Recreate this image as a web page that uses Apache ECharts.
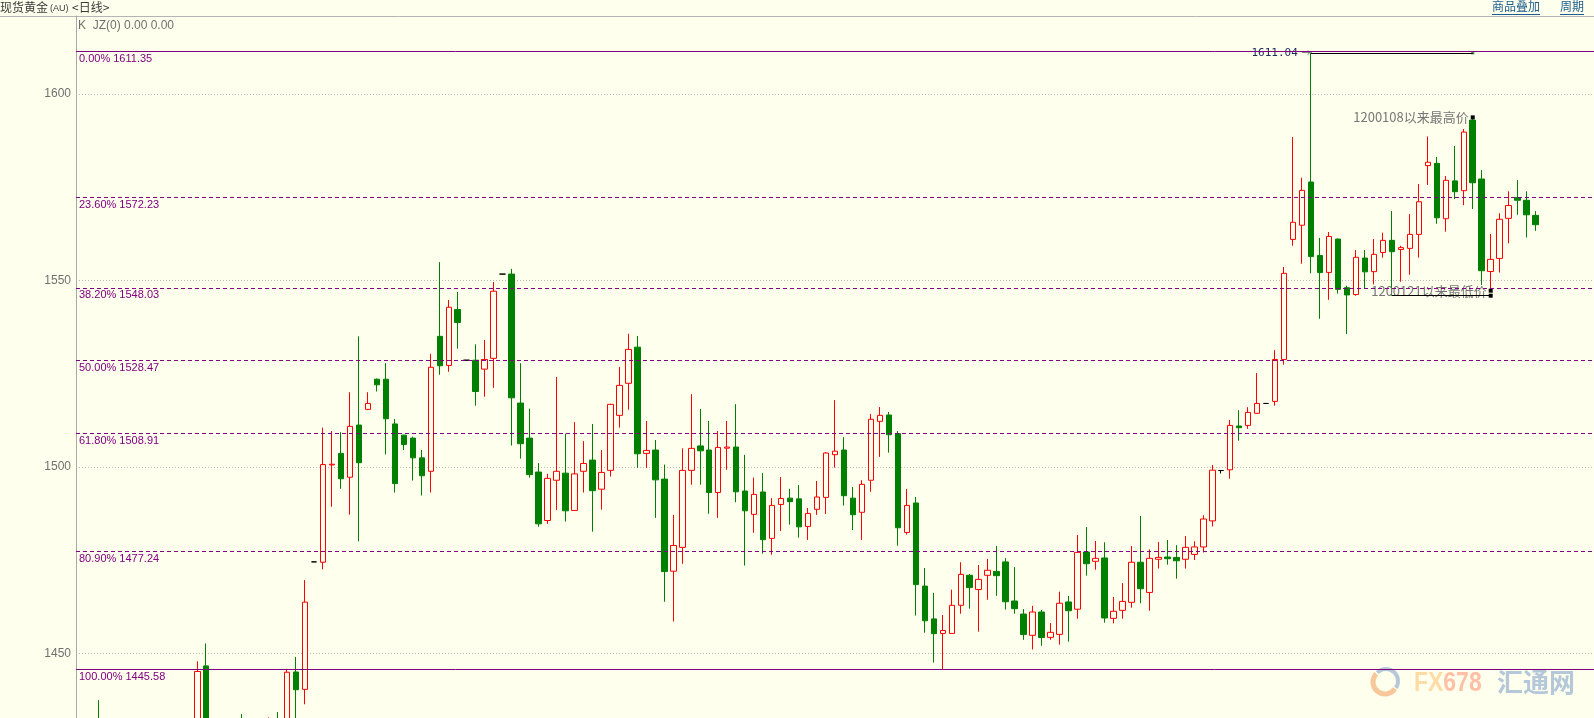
<!DOCTYPE html>
<html><head><meta charset="utf-8">
<script src="https://cdn.jsdelivr.net/npm/echarts@6/dist/echarts.min.js"></script>
<style>html,body{margin:0;padding:0;background:#FFFFEE;}#c{width:1594px;height:718px;}</style>
</head><body><div id="c"></div>
<script>
// ---- data (daily candles, index 0..162; null = outside visible range) ----
const opens = [null,null,1431,null,null,null,null,null,null,null,null,null,null,1430,1446.6,null,null,null,1431,null,null,1428,1432,1430,1444.96,1440.3,1474.5,1474.4,1500.5,1503.6,1497.2,1511.2,1515.4,1523.5,1523.5,1511.5,1508.5,1507.7,1502.4,1498.8,1535.0,1527.2,1542.2,1528.6,1528.6,1526.2,1529.1,1551.7,1551.7,1517.1,1507.7,1498.6,1485.6,1496.4,1498.3,1488.3,1498.8,1501.8,1494.0,1499.05,1513.8,1522.4,1532.1,1503.6,1504.5,1496.7,1472.0,1478.4,1499.05,1505.6,1504.5,1493.1,1505.0,1505.3,1493.5,1487.25,1493.25,1480.8,1489.9,1491.6,1491.4,1484.0,1488.6,1491.8,1503.25,1504.5,1491.6,1487.8,1496.4,1512.2,1513.9,1508.9,1482.4,1490.3,1468.0,1459.2,1455.3,1455.3,1462.85,1470.9,1467.1,1470.9,1471.95,1474.5,1464.0,1460.5,1454.8,1461.05,1454.25,1455.05,1463.75,1461.8,1477.15,1474.65,1475.55,1459.35,1461.5,1463.65,1474.4,1466.3,1475.2,1475.8,1475.7,1475.2,1476.5,1478.5,1485.5,1499.0,1499.2,1510.95,1511.1,1514.35,1517.0,1517.55,1528.8,1561.0,1564.8,1576.4,1556.7,1552.15,1561.1,1548.05,1546.2,1556.0,1552.35,1557.5,1560.75,1558.3,1558.6,1562.35,1580.8,1581.4,1566.55,1576.7,1574.07,1593.0,1577.2,1552.4,1555.9,1566.65,1572.2,1571.5,1567.45];
const closes = [null,null,1426,null,null,null,null,null,null,null,null,null,null,1445.1,1431,null,null,null,1428,null,null,1431,1429,1444.9,1440.2,1463.7,1474.5,1500.6,1500.7,1496.8,1510.85,1501.1,1517.0,1522.0,1512.9,1495.5,1506.0,1502.4,1497.6,1526.7,1527.1,1542.8,1538.7,1528.6,1520.2,1528.8,1547.1,1551.7,1518.5,1506.2,1497.9,1484.7,1496.9,1498.8,1488.2,1498.1,1500.9,1493.6,1498.5,1516.75,1521.85,1531.5,1503.5,1504.4,1496.5,1471.9,1478.9,1499.05,1504.95,1504.3,1493.1,1505.2,1505.3,1493.3,1488.2,1492.6,1480.45,1489.65,1491.5,1490.65,1483.9,1487.5,1491.9,1503.7,1504.2,1492.25,1487.15,1495.3,1512.75,1513.8,1508.6,1483.65,1489.65,1468.4,1458.7,1455.25,1456.1,1462.85,1471.15,1467.6,1469.8,1472.25,1470.8,1463.8,1461.95,1455.0,1461.05,1454.2,1455.6,1463.4,1461.4,1477.05,1474.0,1475.45,1459.45,1461.25,1463.9,1474.4,1467.3,1475.45,1475.7,1475.35,1474.8,1478.4,1478.5,1486,1499.1,1499.0,1511.1,1510.5,1514.6,1517.0,1517.0,1528.8,1551.9,1565.6,1574.16,1556.4,1552.1,1561.8,1547.6,1546.1,1556.2,1552.3,1557.0,1560.75,1557.7,1558.8,1562.35,1571.1,1581.7,1566.8,1576.85,1573.8,1589.8,1576.2,1552.6,1555.65,1566.4,1570.1,1571.5,1567.6,1564.95];
const lows = [null,null,1424,null,null,null,null,null,null,null,null,null,null,1428,1428,null,null,null,1426,null,null,1426,1427,1428,1430,1436.3,1474.5,1472.5,1489.3,1494.1,1487.2,1480.0,1515.2,1520.2,1503.3,1493.1,1504.5,1496.3,1492.3,1493.1,1524.7,1525.5,1531.7,1528.6,1516.4,1518.8,1521.2,1551.7,1505.7,1502.2,1497.1,1483.9,1484.7,1488.4,1485.3,1488.2,1493.1,1482.6,1488.5,1497.4,1510.5,1515.3,1499.7,1499.7,1486.3,1463.8,1458.5,1474.0,1495.2,1495.2,1487.4,1486.3,1499.2,1490.5,1473.5,1482.3,1476.7,1476.4,1482.8,1484.5,1481.0,1480.4,1487.1,1487.35,1499.8,1489.6,1483.05,1480.4,1493.3,1502.65,1503.8,1478.85,1481.8,1460.1,1455.5,1447.5,1445.58,1455.2,1460.6,1461.95,1455.8,1464.35,1465.4,1461.7,1460.6,1453.6,1451.0,1452.0,1453.6,1452.3,1453.1,1459.25,1470.8,1472.4,1458.2,1458.0,1459.25,1462.2,1463.4,1461.4,1472.7,1473.75,1470.0,1472.7,1475,1477,1484,1498.2,1496.8,1507.0,1510.2,1514.3,1517.0,1516.4,1527.4,1559.3,1554.5,1551.9,1539.7,1544.8,1546.45,1535.6,1545.9,1547.8,1548.95,1556.1,1545.9,1549.65,1551.5,1556.1,1575.6,1565.2,1563.1,1571.8,1570.2,1569.15,1548.8,1547.25,1552.1,1559.95,1567.6,1561.5,1563.3];
const highs = [null,null,1437.4,null,null,null,null,null,null,null,null,null,null,1447.8,1452.6,null,null,null,1433.7,null,null,1432.8,1434.2,1445.8,1449.0,1469.6,1474.5,1510.5,1509.6,1509.3,1520.0,1535.0,1520.0,1523.7,1527.8,1512.8,1508.6,1508.1,1504.5,1530.3,1554.9,1544.75,1546.9,1528.6,1532.85,1534.0,1549.6,1551.7,1553.1,1527.8,1515.6,1501.0,1498.1,1524.1,1508.9,1512.0,1506.9,1511.5,1504.5,1516.9,1526.8,1535.7,1535.1,1512.3,1507.2,1500.6,1487.1,1504.95,1519.5,1515.5,1512.3,1509.6,1512.3,1516.8,1503.2,1497.1,1498.3,1491.6,1497.25,1494.05,1495.1,1488.95,1496.2,1503.95,1517.9,1507.95,1494.6,1496.4,1514.2,1516.05,1514.7,1509.6,1494.05,1491.9,1472.85,1466.15,1460.25,1467.05,1474.4,1471.25,1473.65,1475.3,1478.75,1475.5,1473.1,1461.85,1462.7,1461.6,1458.1,1466.5,1465.35,1481.7,1483.85,1480.1,1479.75,1465.1,1468.8,1478.75,1486.8,1477.85,1479.85,1480.35,1479.0,1481.45,1480,1487,1500.5,1499.0,1512.55,1515.2,1516.0,1525.15,1517.0,1531.3,1553.6,1588.46,1577.56,1611.04,1561.4,1563.0,1561.2,1548.6,1558.15,1558.15,1561.1,1562.8,1568.6,1559.3,1567.8,1575.86,1588.6,1583.1,1578.0,1586.05,1590.6,1593.74,1579.6,1562.45,1568.0,1573.9,1576.9,1573.9,1568.6];
const categories = Array.from({length: 169}, (_, i) => String(i));
const yTicks = [1450, 1500, 1550, 1600];
const fibPcts = ['0.00%', '23.60%', '38.20%', '50.00%', '61.80%', '80.90%', '100.00%'];
const fibLevels = [1611.35, 1572.23, 1548.03, 1528.47, 1508.91, 1477.24, 1445.58];
const peakIdx = '137', peakVal = 1611.04, peakLineEnd = '155';
const highNote = {idx: '155', val: 1593.74, text: '1200108以来最高价'};
const lowNote = {idx: '157', val: 1547.25, text: '1200121以来最低价'};
const lowLine = {from: '146', to: '157', val: 1545.9};

const candleData = opens.map((o, i) => o == null ? '-' : [o, closes[i], lows[i], highs[i]]);

const chart = echarts.init(document.getElementById('c'), null, {renderer: 'canvas'});
const PURPLE = '#800080';
const fibLines = fibLevels.map((v, k) => ({
  yAxis: v,
  lineStyle: {color: PURPLE, width: 1, type: (k === 0 || k === fibLevels.length - 1) ? 'solid' : [4, 3]},
  label: {show: true, position: 'insideStartBottom', distance: [3, 2], formatter: fibPcts[k] + ' ' + v.toFixed(2),
          color: PURPLE, fontSize: 11, fontFamily: 'Liberation Sans'}
}));
const annLines = [
  [{coord: [peakIdx, peakVal]}, {coord: [peakLineEnd, peakVal]}],
  [{coord: [lowLine.from, lowLine.val]}, {coord: [lowLine.to, lowLine.val]}]
].map(p => { p[0].lineStyle = {color: '#000', width: 1, type: 'solid'}; p[0].label = {show: false}; return p; });

chart.setOption({
  backgroundColor: '#FFFFEE',
  animation: false,
  grid: {left: 76, top: 16, width: 1521, height: 702},
  xAxis: {type: 'category', data: categories, boundaryGap: true,
          axisLine: {show: false}, axisTick: {show: false}, axisLabel: {show: false}, splitLine: {show: false}},
  yAxis: {type: 'value', min: 1432.62, max: 1620.93,
          axisLine: {show: true, lineStyle: {color: '#a8a8a8'}}, axisTick: {show: false}, splitLine: {show: false},
          axisLabel: {customValues: yTicks, formatter: v => String(v), color: '#707070', fontSize: 12,
                      fontFamily: 'Liberation Sans', margin: 5}},
  series: [
    {type: 'line', data: [], silent: true,
     markLine: {z: 1, silent: true, symbol: ['none', 'none'], label: {show: false},
                lineStyle: {type: [1, 2], color: '#b8b8b8', width: 1},
                data: yTicks.map(v => ({yAxis: v}))}},
    {type: 'candlestick', data: candleData, barWidth: 6, silent: true,
     itemStyle: {color: '#FFFFEE', color0: '#008000', borderColor: '#FF0000', borderColor0: '#008000',
                 borderColorDoji: '#000000', borderWidth: 1},
     markLine: {z: 6, silent: true, symbol: ['none', 'none'], data: fibLines.concat(annLines)},
     markPoint: {z: 5, silent: true, data: [
       {coord: [peakIdx, peakVal], symbol: 'rect', symbolSize: [1, 1], itemStyle: {color: '#000'},
        label: {show: true, position: 'left', distance: 0, formatter: '{a|' + peakVal.toFixed(2) + '}{b| →}',
                rich: {a: {color: '#1a2a5a', fontSize: 11, fontFamily: 'DejaVu Sans Mono'},
                       b: {color: '#808080', fontSize: 11, fontFamily: 'DejaVu Sans'}}}},
       {coord: [peakLineEnd, peakVal], symbol: 'rect', symbolSize: [3, 3], itemStyle: {color: '#4a8a4a'}, label: {show: false}},
       {coord: [highNote.idx, highNote.val], symbol: 'rect', symbolSize: [4, 4], itemStyle: {color: '#000'},
        label: {show: true, position: 'left', distance: 2, formatter: highNote.text, color: '#777777', fontSize: 13, fontFamily: 'Noto Sans CJK SC'}},
       {coord: [lowNote.idx, lowNote.val], symbol: 'rect', symbolSize: [4, 4], itemStyle: {color: '#000'},
        label: {show: true, position: 'left', distance: 2, formatter: lowNote.text, color: '#777777', fontSize: 13, fontFamily: 'Noto Sans CJK SC'}},
       {coord: [lowLine.to, lowLine.val], symbol: 'rect', symbolSize: [4, 4], itemStyle: {color: '#000'}, label: {show: false}}
     ]}}
  ],
  graphic: [
    {type: 'line', shape: {x1: 0, y1: 16.5, x2: 1594, y2: 16.5}, style: {stroke: '#b4b4b4', lineWidth: 1}, silent: true},
    {type: 'text', x: 0, y: 7, silent: true,
     style: {text: '现货黄金', fontSize: 12, fontFamily: 'Noto Sans CJK SC', fill: '#3a3a3a', verticalAlign: 'middle'}},
    {type: 'text', x: 50, y: 9, silent: true,
     style: {text: '(AU)', fontSize: 9, fontFamily: 'Liberation Sans', fill: '#3a3a3a', verticalAlign: 'middle'}},
    {type: 'text', x: 72, y: 7, silent: true,
     style: {text: '<日线>', fontSize: 12, fontFamily: 'Noto Sans CJK SC', fill: '#3a3a3a', verticalAlign: 'middle'}},
    {type: 'text', left: 78, top: 20, silent: true,
     style: {text: 'K  JZ(0) 0.00 0.00', fontSize: 12, fontFamily: 'Liberation Sans', fill: '#707070'}},
    {type: 'text', left: 1492, top: 0, silent: true,
     style: {text: '商品叠加', fontSize: 12, fontFamily: 'Noto Sans CJK SC', fill: '#1b5e8c'}},
    {type: 'line', shape: {x1: 1492, y1: 14.5, x2: 1540, y2: 14.5}, style: {stroke: '#1b5e8c', lineWidth: 1}, silent: true},
    {type: 'text', left: 1560, top: 0, silent: true,
     style: {text: '周期', fontSize: 12, fontFamily: 'Noto Sans CJK SC', fill: '#1b5e8c'}},
    {type: 'line', shape: {x1: 1560, y1: 14.5, x2: 1584, y2: 14.5}, style: {stroke: '#1b5e8c', lineWidth: 1}, silent: true},
    // watermark
    {type: 'group', silent: true, children: [
      {type: 'arc', shape: {cx: 1385, cy: 682, r: 12, startAngle: 0.6, endAngle: 3.9}, style: {stroke: '#f6c79a', lineWidth: 5, fill: 'none'}},
      {type: 'arc', shape: {cx: 1386, cy: 681, r: 12, startAngle: 3.9, endAngle: 6.9}, style: {stroke: '#b6c8d8', lineWidth: 4, fill: 'none'}},
      {type: 'text', x: 1414, y: 669, scaleX: 0.82, style: {text: '{a|FX}{b|678}', rich: {
        a: {fontSize: 28, fontWeight: 'bold', fontFamily: 'Liberation Sans', fill: '#ffdca6'},
        b: {fontSize: 28, fontWeight: 'bold', fontFamily: 'Liberation Sans', fill: '#ffc0a6'}}}},
      {type: 'text', x: 1497, y: 669, style: {text: '汇通网', fontSize: 26, fontWeight: 'bold', fontFamily: 'Noto Sans CJK SC', fill: '#b4c8da'}}
    ]}
  ]
});
</script></body></html>
